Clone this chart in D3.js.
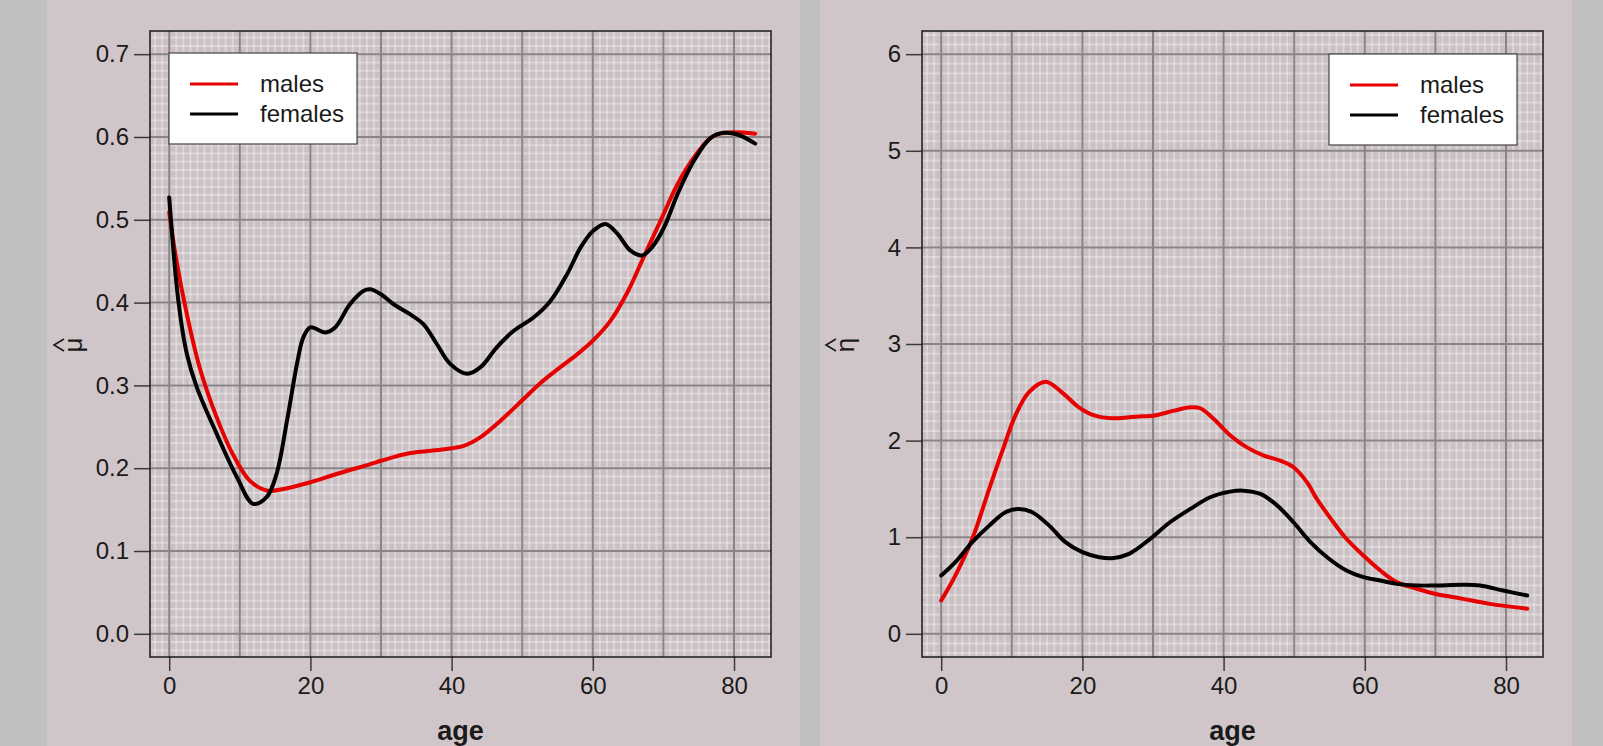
<!DOCTYPE html>
<html lang="en">
<head>
    <meta charset="UTF-8">
    <title>mu and eta by age</title>
    <style>
        body { margin: 0; background: #c0c0c0; }
        svg { display: block; }
        text { font-family: "Liberation Sans", Arial, sans-serif; fill: #1a1a1a; }
    </style>
    <script src="https://cdn.jsdelivr.net/npm/d3@7/dist/d3.min.js"></script>
</head>
<body>
<svg width="1603" height="746"></svg>
<script type="text/javascript">
    // ages and estimates
    var mu_male_ages = [0, 1, 2.5, 4.3, 6.7, 9, 11.4, 13.8, 16.2, 20, 23.7, 28.5, 30, 34, 39, 41.7, 44, 47, 50, 52.6, 55.4, 58, 60, 62.5, 65, 67.2, 69.6, 72, 74.3, 76.7, 78.6, 83];
    var mu_males = [0.509, 0.452, 0.386, 0.322, 0.262, 0.217, 0.185, 0.173, 0.175, 0.183, 0.193, 0.205, 0.209, 0.218, 0.223, 0.227, 0.237, 0.258, 0.282, 0.303, 0.322, 0.339, 0.354, 0.378, 0.414, 0.455, 0.499, 0.543, 0.575, 0.599, 0.605, 0.604];

    var mu_female_ages = [0, 1.3, 2.5, 3.9, 6.7, 9.6, 11.9, 13.8, 15.2, 16.7, 18.1, 19, 20, 22.1, 23.5, 25.6, 27.5, 28.5, 30, 31.8, 34.1, 36, 37.9, 39.8, 42.2, 44.1, 46.4, 48.8, 51.6, 54, 56.4, 58.3, 60.1, 61.8, 63.5, 65.3, 67, 68.4, 70.1, 72, 74.3, 76.7, 78.6, 80.5, 83];
    var mu_females = [0.527, 0.402, 0.338, 0.298, 0.242, 0.189, 0.157, 0.165, 0.193, 0.258, 0.326, 0.358, 0.370, 0.364, 0.370, 0.398, 0.414, 0.416, 0.410, 0.398, 0.386, 0.374, 0.350, 0.326, 0.314, 0.322, 0.346, 0.366, 0.382, 0.402, 0.435, 0.467, 0.487, 0.495, 0.483, 0.463, 0.457, 0.467, 0.491, 0.531, 0.571, 0.599, 0.605, 0.603, 0.592];

    var eta_male_ages = [0, 2, 4.4, 6.8, 8.6, 10.5, 12.4, 14.8, 17.1, 19.5, 21.8, 24.2, 26.6, 28.5, 30.1, 33, 35.3, 36.7, 38.6, 41, 43.3, 45.7, 48, 49.9, 51.8, 53.2, 55.1, 57.2, 59.8, 62.2, 64.5, 67.4, 69.9, 73.9, 77.7, 83];
    var eta_males = [0.345, 0.603, 0.983, 1.50, 1.88, 2.258, 2.50, 2.61, 2.50, 2.345, 2.258, 2.231, 2.241, 2.252, 2.258, 2.31, 2.345, 2.335, 2.224, 2.05, 1.93, 1.845, 1.793, 1.724, 1.57, 1.397, 1.2, 1.0, 0.81, 0.655, 0.535, 0.466, 0.414, 0.362, 0.31, 0.26];

    var eta_female_ages = [0, 2, 4.4, 6.8, 9.1, 11, 12.9, 15.3, 17.6, 20, 22.4, 24.2, 26.6, 29.6, 32.4, 35.3, 38.1, 40.9, 42.8, 45.2, 47.6, 49.9, 52.3, 54.7, 57.4, 59.8, 62.2, 64.5, 67.4, 69.9, 73.9, 76.3, 79.6, 83];
    var eta_females = [0.603, 0.742, 0.949, 1.12, 1.259, 1.293, 1.259, 1.12, 0.949, 0.845, 0.793, 0.783, 0.828, 0.983, 1.155, 1.293, 1.414, 1.472, 1.482, 1.448, 1.327, 1.155, 0.949, 0.79, 0.655, 0.586, 0.551, 0.517, 0.50, 0.50, 0.507, 0.50, 0.448, 0.396];

    var age_ticks = [0, 20, 40, 60, 80];
    var mu_ticks = [0, 0.1, 0.2, 0.3, 0.4, 0.5, 0.6, 0.7];
    var eta_ticks = [0, 1, 2, 3, 4, 5, 6];
    var series_names = ["males", "females"];
    var series_colors = ["#e60000", "#000000"];

    var svg = d3.select("svg");
    var plot_top = 31, plot_bottom = 657, plot_w = 621;

    // gray panel backgrounds
    svg.append("rect").attr("x", 47).attr("y", 0).attr("width", 753).attr("height", 746).attr("fill", "#d0c6c9");
    svg.append("rect").attr("x", 820).attr("y", 0).attr("width", 752).attr("height", 746).attr("fill", "#d0c6c9");

    function drawPanel(p) {
        var left = p.left;
        var x = d3.scaleLinear().domain([-2.72, 85.24]).range([left, left + plot_w]);
        var y = d3.scaleLinear().domain(p.ydomain).range([plot_bottom, plot_top]);
        var g = svg.append("g");

        var clipId = "clip" + left;
        g.append("clipPath").attr("id", clipId)
            .append("rect").attr("x", left).attr("y", plot_top).attr("width", plot_w).attr("height", plot_bottom - plot_top);

        g.append("rect").attr("x", left).attr("y", plot_top).attr("width", plot_w).attr("height", plot_bottom - plot_top)
            .attr("fill", "#cbc1c4");

        var grid = g.append("g").attr("clip-path", "url(#" + clipId + ")");
        // fine grid
        grid.selectAll("line.vminor").data(d3.range(-3, 86, 1)).enter().append("line")
            .attr("x1", function (d) { return x(d); }).attr("x2", function (d) { return x(d); })
            .attr("y1", plot_top).attr("y2", plot_bottom)
            .attr("stroke", "#ffffff").attr("stroke-opacity", 0.32).attr("stroke-width", 2);
        grid.selectAll("line.hminor").data(d3.range(-30, 731, 10).map(function (d) { return d * p.ystep / 100; })).enter().append("line")
            .attr("y1", function (d) { return y(d); }).attr("y2", function (d) { return y(d); })
            .attr("x1", left).attr("x2", left + plot_w)
            .attr("stroke", "#ffffff").attr("stroke-opacity", 0.32).attr("stroke-width", 2);
        // major grid
        grid.selectAll("line.vmajor").data(d3.range(0, 81, 10)).enter().append("line")
            .attr("x1", function (d) { return x(d); }).attr("x2", function (d) { return x(d); })
            .attr("y1", plot_top).attr("y2", plot_bottom)
            .attr("stroke", "#8a8487").attr("stroke-width", 2);
        grid.selectAll("line.hmajor").data(p.yticks).enter().append("line")
            .attr("y1", function (d) { return y(d); }).attr("y2", function (d) { return y(d); })
            .attr("x1", left).attr("x2", left + plot_w)
            .attr("stroke", "#8a8487").attr("stroke-width", 2);

        // axes
        var xAxis = g.append("g").attr("transform", "translate(0," + plot_bottom + ")")
            .call(d3.axisBottom(x).tickValues(age_ticks).tickSize(14).tickPadding(6).tickFormat(d3.format("d")));
        var yAxis = g.append("g").attr("transform", "translate(" + left + ",0)")
            .call(d3.axisLeft(y).tickValues(p.yticks).tickSize(16).tickPadding(5).tickFormat(p.yformat));
        [xAxis, yAxis].forEach(function (a) {
            a.select(".domain").remove();
            a.selectAll(".tick line").attr("stroke", "#3a3a3a").attr("stroke-width", 1.5);
            a.selectAll(".tick text").attr("font-size", 24).attr("font-family", "Liberation Sans, Arial, sans-serif").attr("fill", "#1a1a1a");
        });

        // curves
        var line = d3.line()
            .x(function (d) { return x(d[0]); })
            .y(function (d) { return y(d[1]); })
            .curve(d3.curveCatmullRom.alpha(0.5));
        p.series.forEach(function (s, i) {
            g.append("path")
                .datum(d3.zip(s.ages, s.values))
                .attr("d", line)
                .attr("fill", "none")
                .attr("stroke", series_colors[i])
                .attr("stroke-width", 4)
                .attr("stroke-linecap", "round")
                .attr("stroke-linejoin", "round");
        });

        // box
        g.append("rect").attr("x", left).attr("y", plot_top).attr("width", plot_w).attr("height", plot_bottom - plot_top)
            .attr("fill", "none").attr("stroke", "#1a1a1a").attr("stroke-width", 1.5);

        // legend
        var lg = g.append("g").attr("transform", "translate(" + p.legend[0] + "," + p.legend[1] + ")");
        lg.append("rect").attr("width", 188).attr("height", 91).attr("fill", "#ffffff")
            .attr("stroke", "#444").attr("stroke-width", 1.2);
        series_names.forEach(function (n, i) {
            lg.append("line").attr("x1", 21).attr("x2", 69).attr("y1", 31 + i * 30).attr("y2", 31 + i * 30)
                .attr("stroke", series_colors[i]).attr("stroke-width", 3);
            lg.append("text").attr("x", 91).attr("y", 31 + i * 30).attr("dy", "0.35em")
                .attr("font-size", 24).text(n);
        });

        // axis titles
        svg.append("text").attr("x", left + plot_w / 2).attr("y", 740)
            .attr("text-anchor", "middle").attr("font-size", 27).attr("font-weight", "bold").text("age");
        var yl = svg.append("g").attr("transform", "translate(" + (left - 68) + ",345) rotate(-90)");
        yl.append("text").attr("text-anchor", "middle").attr("font-size", 26).text(p.ylabel);
        yl.append("path").attr("d", "M-6,-18L0,-28L6,-18").attr("fill", "none").attr("stroke", "#1a1a1a").attr("stroke-width", 1.6);
    }

    drawPanel({
        left: 150,
        ydomain: [-0.028, 0.728],
        ystep: 0.1,
        yticks: mu_ticks,
        yformat: d3.format(".1f"),
        ylabel: "\u03bc",
        legend: [169, 53],
        series: [{ ages: mu_male_ages, values: mu_males }, { ages: mu_female_ages, values: mu_females }]
    });
    drawPanel({
        left: 922,
        ydomain: [-0.24, 6.24],
        ystep: 1,
        yticks: eta_ticks,
        yformat: d3.format("d"),
        ylabel: "\u03b7",
        legend: [1329, 54],
        series: [{ ages: eta_male_ages, values: eta_males }, { ages: eta_female_ages, values: eta_females }]
    });
</script>
</body>
</html>
